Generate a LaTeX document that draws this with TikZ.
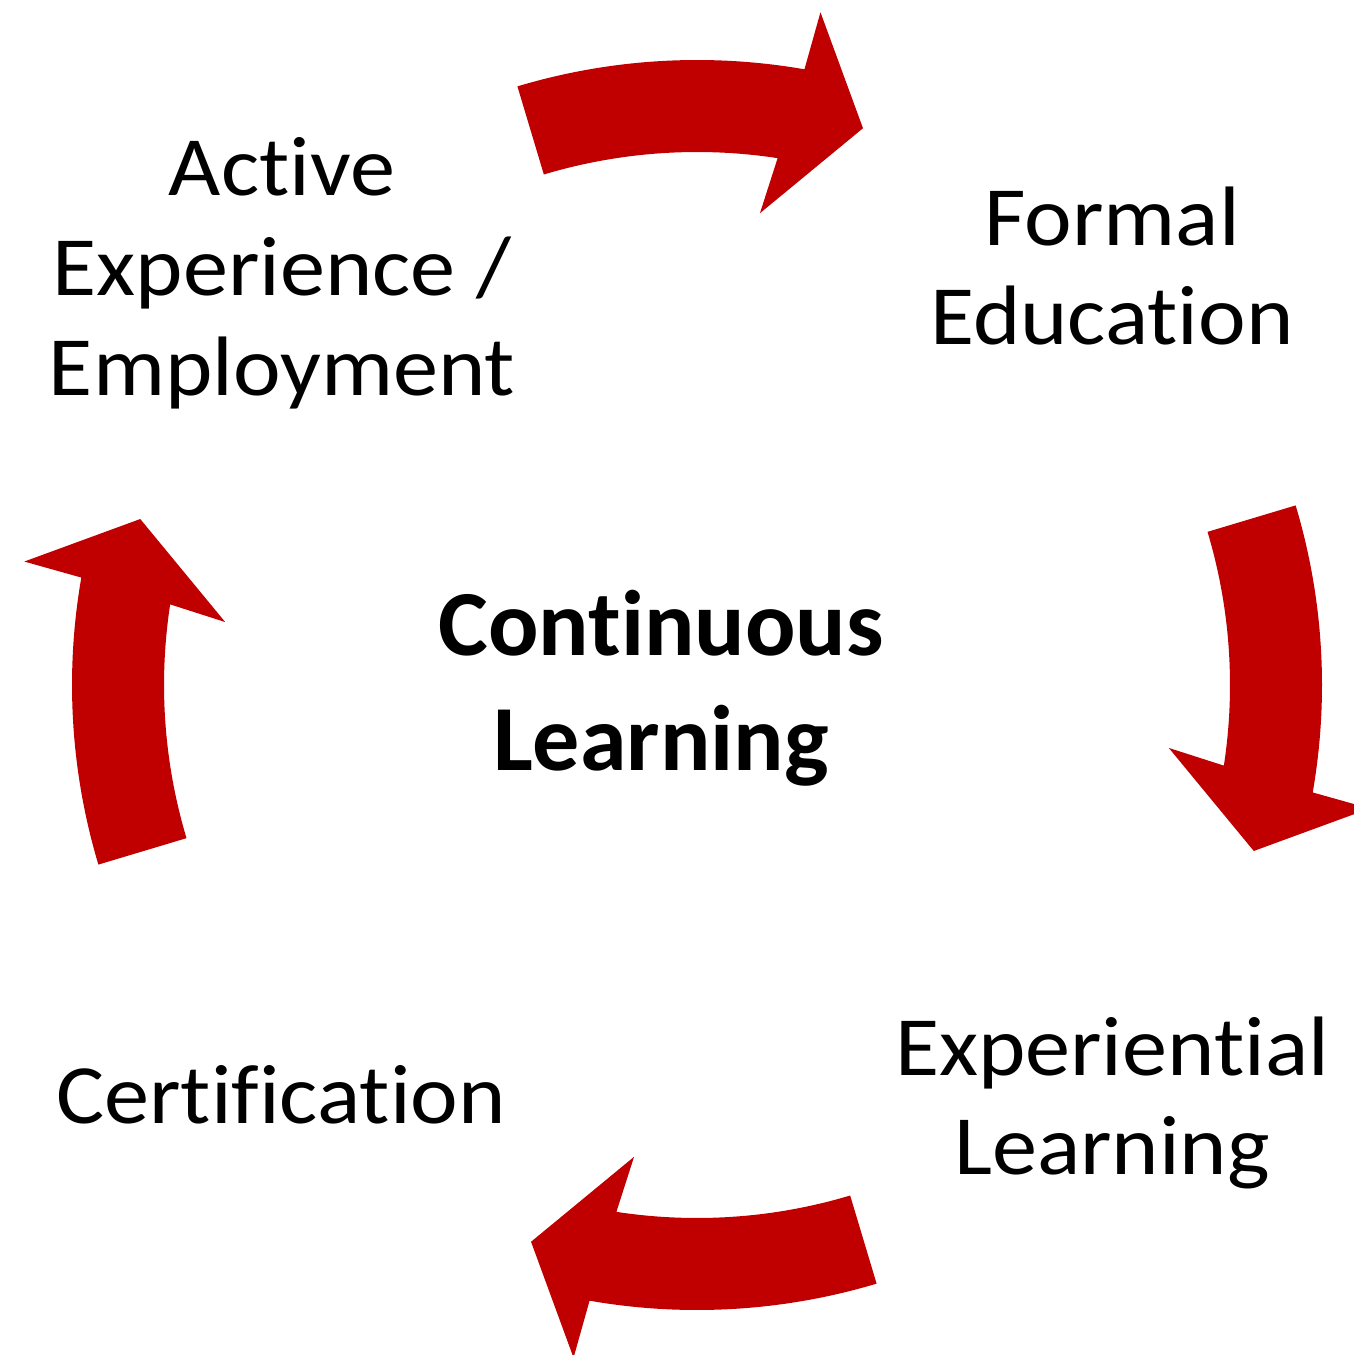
\documentclass[tikz,border=0pt]{standalone}
\usepackage{fontspec}
\setmainfont{Carlito}[Ligatures=NoCommon,FakeStretch=1.07]
\newfontfamily\hubfont{Carlito}[Ligatures=NoCommon,FakeStretch=1.01]
\usepackage{tikz}
\definecolor{cycred}{RGB}{192,0,0}
\tikzset{
    stagetext/.style={align=center,font=\fontsize{24}{28.4}\selectfont},
    hubtext/.style={align=center,font=\hubfont\bfseries\fontsize{26.5}{32.7}\selectfont}
}

\begin{document}
\begin{tikzpicture}[thick]
        \useasboundingbox (0,0) rectangle (13.53,-13.55);

        \def\ro{6.25}
        \def\ri{5.33}

        % one bent arrow, turned a quarter for each stage
        \foreach \r in {0,90,180,270}{
            \begin{scope}[shift={(6.97,-6.85)},rotate=-\r]
                \fill [cycred] (106.7:\ro) arc [start angle=106.7,end angle=80.1,radius=\ro] -- (79.6:6.84) -- (73.4:5.81) -- (82.4:4.76) -- (81.3:\ri) arc [start angle=81.3,end angle=106.7,radius=\ri] -- cycle;
            \end{scope}
        }

        \node [stagetext] (active) at (2.82,-2.73) {Active\\Experience /\\Employment};
        \node [stagetext] (formal) at (11.12,-2.66) {Formal\\Education};
        \node [stagetext] (exper) at (11.12,-11.03) {Experiential\\Learning};
        \node [stagetext] (cert) at (2.81,-10.95) {Certification};
        \node [hubtext] (hub) at (6.61,-6.88) {Continuous\\Learning};
    \end{tikzpicture}
\end{document}
